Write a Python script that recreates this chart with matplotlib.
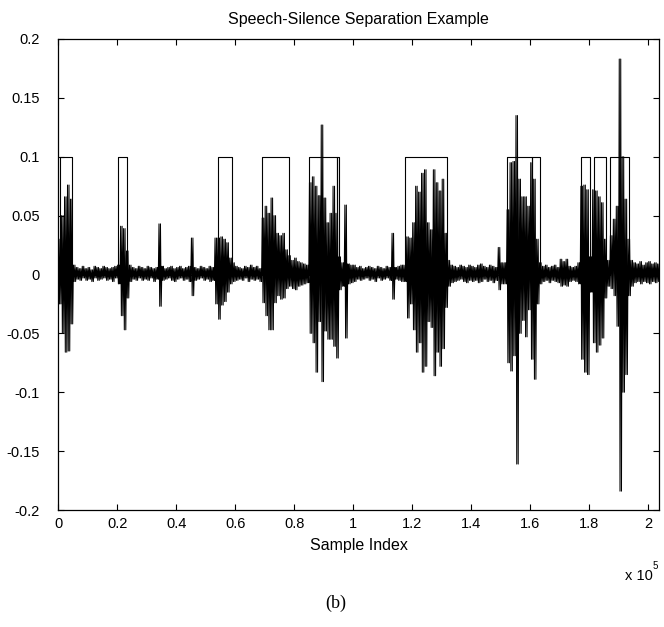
import numpy as np
import matplotlib
matplotlib.use("Agg")
import matplotlib.pyplot as plt

plt.rcParams['font.family'] = ['Liberation Sans', 'DejaVu Sans']

# ---------------- data ----------------
BIN = 1000  # samples per envelope bin
X_MAX = 203600

# upper envelope per bin, in units of 1e-3
env_hi = [
    30, 50, 66, 76, 64, 8, 6, 5, 7, 5,
    6, 4, 7, 6, 5, 7, 6, 5, 6, 7,
    8, 41, 39, 20, 8, 6, 5, 7, 6, 5,
    7, 6, 5, 6, 43, 7, 5, 6, 7, 5,
    6, 7, 5, 6, 7, 31, 6, 5, 7, 6,
    5, 7, 6, 31, 31, 32, 30, 27, 14, 10,
    7, 6, 5, 7, 6, 8, 6, 7, 5, 48,
    58, 52, 65, 50, 35, 33, 35, 21, 16, 12,
    14, 11, 10, 9, 8, 78, 83, 75, 67, 127,
    65, 44, 52, 75, 52, 15, 10, 59, 9, 8,
    8, 6, 7, 5, 6, 7, 6, 5, 7, 6,
    5, 7, 6, 35, 6, 7, 8, 8, 32, 31,
    44, 75, 70, 86, 89, 44, 38, 89, 78, 71,
    81, 35, 12, 8, 7, 6, 8, 7, 6, 8,
    7, 6, 8, 9, 7, 6, 8, 7, 6, 23,
    10, 10, 55, 95, 96, 135, 81, 66, 66, 58,
    95, 81, 30, 10, 7, 8, 6, 7, 8, 6,
    13, 11, 13, 7, 6, 7, 10, 75, 76, 72,
    15, 72, 71, 66, 61, 30, 12, 33, 47, 58,
    183, 100, 64, 30, 12, 10, 9, 11, 8, 10,
    11, 9, 10, 9,
]
# lower envelope per bin, in units of 1e-3
env_lo = [
    -25, -50, -66, -65, -42, -6, -4, -5, -3, -5,
    -4, -6, -3, -5, -4, -3, -5, -4, -6, -3,
    -8, -35, -47, -20, -6, -4, -5, -3, -5, -4,
    -5, -3, -6, -4, -27, -5, -4, -3, -5, -6,
    -4, -3, -5, -4, -6, -18, -5, -4, -3, -5,
    -4, -6, -5, -25, -38, -26, -23, -15, -8, -6,
    -5, -4, -5, -3, -6, -4, -5, -4, -6, -24,
    -35, -47, -47, -24, -18, -21, -20, -12, -10, -12,
    -13, -10, -9, -8, -7, -50, -58, -83, -40, -91,
    -48, -55, -55, -61, -71, -13, -10, -54, -8, -7,
    -6, -4, -5, -4, -3, -5, -4, -6, -3, -5,
    -4, -3, -5, -21, -4, -5, -6, -6, -37, -25,
    -47, -66, -58, -83, -78, -40, -45, -86, -66, -78,
    -63, -28, -10, -7, -6, -5, -4, -6, -7, -5,
    -6, -5, -7, -6, -4, -6, -5, -7, -5, -13,
    -8, -8, -75, -82, -69, -161, -50, -39, -53, -30,
    -72, -89, -25, -8, -6, -5, -7, -5, -6, -7,
    -10, -9, -10, -6, -5, -6, -8, -72, -83, -85,
    -15, -58, -66, -60, -54, -20, -10, -12, -18, -44,
    -184, -100, -85, -18, -10, -7, -6, -8, -6, -7,
    -8, -6, -7, -6,
]

# speech segments (sample index start / end)
seg_start = [580, 20340, 54240, 69160, 85090, 94480, 117630, 152000, 160580, 177080, 181490, 187130]
seg_end = [4650, 23390, 58990, 78310, 94480, 95260, 131870, 160580, 163390, 180240, 185660, 193470]
SEG_LEVEL = 0.1

xtick_vals = [0, 20000, 40000, 60000, 80000, 100000, 120000, 140000, 160000, 180000, 200000]
xtick_labels = ['0', '0.2', '0.4', '0.6', '0.8', '1', '1.2', '1.4', '1.6', '1.8', '2']
ytick_vals = [-0.2, -0.15, -0.1, -0.05, 0, 0.05, 0.1, 0.15, 0.2]
ytick_labels = ['-0.2', '-0.15', '-0.1', '-0.05', '0', '0.05', '0.1', '0.15', '0.2']

# ---------------- build polyline of the waveform ----------------
hi = np.array(env_hi) / 1000.0
lo = np.array(env_lo) / 1000.0
nb = len(hi)
offs = np.array([0.125, 0.375, 0.625, 0.875]) * BIN
wx = (np.arange(nb)[:, None] * BIN + offs[None, :]).ravel()
wy = np.stack([hi, lo, hi, lo], axis=1).ravel()

# box (step) signal
bx = [0]
by = [0]
for s, e in zip(seg_start, seg_end):
    bx += [s, s, e, e]
    by += [0, SEG_LEVEL, SEG_LEVEL, 0]
bx.append(X_MAX)
by.append(0)

# ---------------- figure ----------------
fig = plt.figure(figsize=(6.64, 6.27), dpi=100)
ax = fig.add_axes([0.0878, 0.1866, 0.9047, 0.7512])

ax.plot(wx, wy, color='black', lw=0.75)
ax.plot(bx, by, color='black', lw=0.8)

ax.set_xlim(0, X_MAX)
ax.set_ylim(-0.2, 0.2)
ax.set_xticks(xtick_vals)
ax.set_xticklabels(xtick_labels)
ax.set_yticks(ytick_vals)
ax.set_yticklabels(ytick_labels)
ax.tick_params(direction='in', length=4, width=0.8, top=True, right=True,
               labelsize=10.5, colors='black')
ax.tick_params(axis='y', pad=13.5)
ax.tick_params(axis='x', pad=5)
for sp in ax.spines.values():
    sp.set_linewidth(0.9)

ax.set_title('Speech-Silence Separation Example', fontsize=11.5, pad=11)
ax.set_xlabel('Sample Index', fontsize=11.5, labelpad=5)

fig.text(625 / 664, 1 - 576 / 627, 'x 10', fontsize=10.5, ha='left', va='center')
fig.text(653 / 664, 1 - 566 / 627, '5', fontsize=7, ha='left', va='center')
fig.text(336 / 664, 1 - 603 / 627, '(b)', fontsize=13, ha='center', va='center',
         family=['Liberation Serif', 'DejaVu Serif'])

fig.savefig('out.png', dpi=100)
